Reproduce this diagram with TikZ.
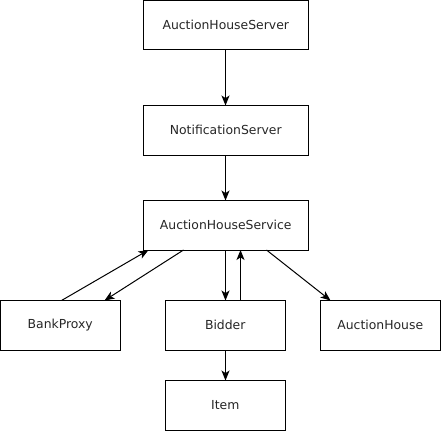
\documentclass[tikz,border=0pt]{standalone}
\usepackage{fontspec}
\setmainfont{DejaVu Sans}
\usetikzlibrary{arrows.meta}
\begin{document}
\begin{tikzpicture}[x=0.75pt,y=-0.75pt,
  box/.style={draw=black,line width=0.75pt,minimum width=164.5*0.75pt,minimum height=49.5*0.75pt,inner sep=0pt,outer sep=0pt,font=\fontsize{9.3pt}{11pt}\selectfont,text=black!85,anchor=north west},
  sbox/.style={box,minimum width=119.5*0.75pt,minimum height=49.5*0.75pt},
  conn/.style={line width=0.75pt,-{Stealth[length=7.5pt,width=6pt,inset=2pt]}}]
\useasboundingbox (0,0) rectangle (441,431);
\node[box] (srv) at (143.5,0.5) {AuctionHouseServer};
\node[box] (ntf) at (143.5,105.5) {NotificationServer};
\node[box] (svc) at (143.5,200.5) {AuctionHouseService};
\node[sbox] (bank) at (0.5,300.5) {BankProxy};
\node[sbox] (bid) at (165.5,300.5) {Bidder};
\node[sbox] (ah) at (320.5,300.5) {AuctionHouse};
\node[sbox] (item) at (165.5,380.5) {Item};
\draw[conn] (srv.south -| 225.5,0) -- (ntf.north -| 225.5,0);
\draw[conn] (ntf.south -| 225.5,0) -- (svc.north -| 225.5,0);
\draw[conn] (bank.north -| 61.5,0) -- (svc.south -| 148.5,0);
\draw[conn] (svc.south -| 183.5,0) -- (bank.north -| 104.5,0);
\draw[conn] (svc.south -| 225.5,0) -- (bid.north -| 225.5,0);
\draw[conn] (bid.north -| 240.5,0) -- (svc.south -| 240.5,0);
\draw[conn] (svc.south -| 266.5,0) -- (ah.north -| 330.5,0);
\draw[conn] (bid.south -| 225.5,0) -- (item.north -| 225.5,0);
\end{tikzpicture}
\end{document}
